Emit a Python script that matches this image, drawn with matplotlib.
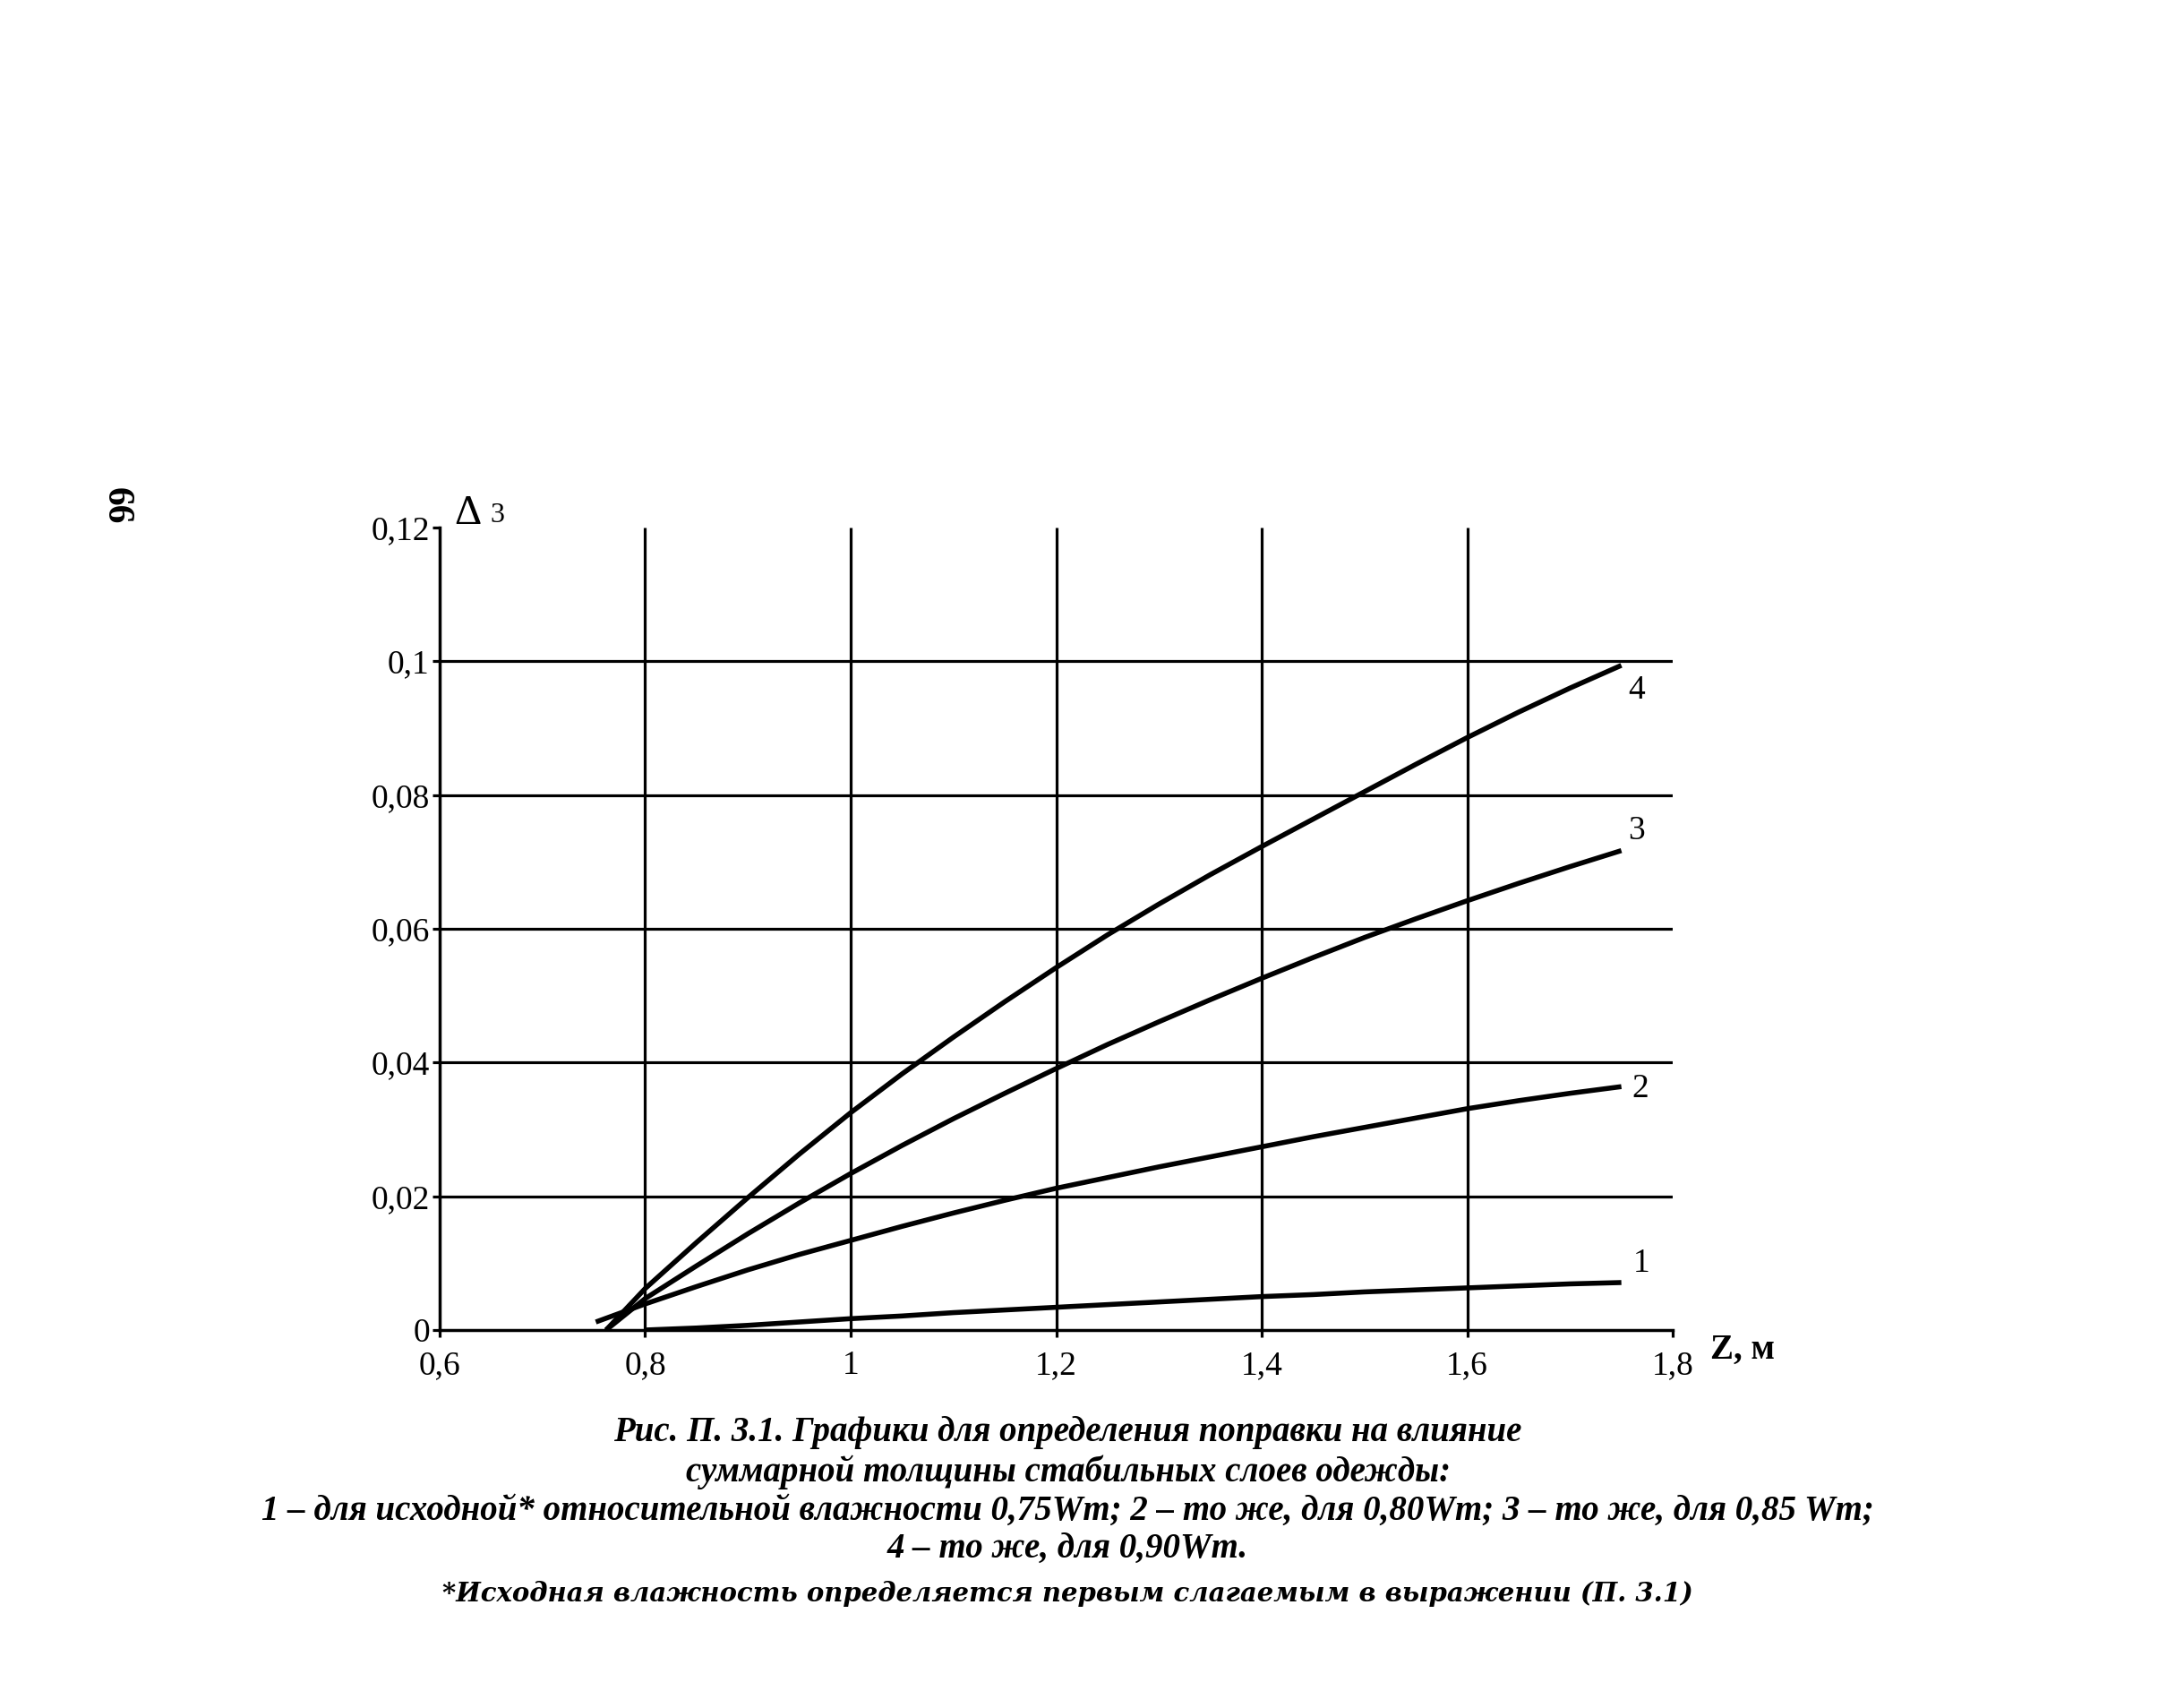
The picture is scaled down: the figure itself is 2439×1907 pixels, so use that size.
import matplotlib
matplotlib.use("Agg")
import matplotlib.pyplot as plt

plt.rcParams['font.family'] = ['Liberation Serif', 'DejaVu Serif']

# curve data (Z in m, correction value)
z1 = [0.80, 0.85, 0.90, 0.95, 1.00, 1.05, 1.10, 1.15, 1.20, 1.25, 1.30,
      1.35, 1.40, 1.45, 1.50, 1.55, 1.60, 1.65, 1.70, 1.75]
d1 = [0.0000, 0.0003, 0.0007, 0.0012, 0.0017, 0.0021, 0.0026, 0.0030, 0.0034, 0.0038, 0.0042,
      0.0046, 0.0050, 0.0053, 0.0057, 0.0060, 0.0063, 0.0066, 0.0069, 0.0071]

z2 = [0.752, 0.80, 0.85, 0.90, 0.95, 1.00, 1.05, 1.10, 1.15, 1.20, 1.25, 1.30,
      1.35, 1.40, 1.45, 1.50, 1.55, 1.60, 1.65, 1.70, 1.75]
d2 = [0.0012, 0.0039, 0.0065, 0.0090, 0.0113, 0.0134, 0.0155, 0.0175, 0.0194, 0.0212, 0.0228, 0.0244,
      0.0259, 0.0274, 0.0289, 0.0303, 0.0317, 0.0331, 0.0343, 0.0354, 0.0364]

z3 = [0.762, 0.80, 0.85, 0.90, 0.95, 1.00, 1.05, 1.10, 1.15, 1.20, 1.25, 1.30,
      1.35, 1.40, 1.45, 1.50, 1.55, 1.60, 1.65, 1.70, 1.75]
d3 = [0.0000, 0.0047, 0.0096, 0.0144, 0.0190, 0.0234, 0.0276, 0.0316, 0.0354, 0.0391, 0.0427, 0.0461,
      0.0494, 0.0526, 0.0557, 0.0587, 0.0615, 0.0642, 0.0668, 0.0693, 0.0717]

z4 = [0.762, 0.80, 0.85, 0.90, 0.95, 1.00, 1.05, 1.10, 1.15, 1.20, 1.25, 1.30,
      1.35, 1.40, 1.45, 1.50, 1.55, 1.60, 1.65, 1.70, 1.75]
d4 = [0.0000, 0.0062, 0.0131, 0.0198, 0.0263, 0.0325, 0.0383, 0.0438, 0.0491, 0.0542, 0.0591, 0.0637,
      0.0681, 0.0723, 0.0764, 0.0805, 0.0846, 0.0886, 0.0924, 0.0960, 0.0994]

curve_names = ["1", "2", "3", "4"]
label_pos = [(1.770, 0.0100), (1.768, 0.0361), (1.765, 0.0746), (1.765, 0.0957)]

xticks = [0.6, 0.8, 1.0, 1.2, 1.4, 1.6, 1.8]
xticklabels = ["0,6", "0,8", "1", "1,2", "1,4", "1,6", "1,8"]
yticks = [0, 0.02, 0.04, 0.06, 0.08, 0.1, 0.12]
yticklabels = ["0", "0,02", "0,04", "0,06", "0,08", "0,1", "0,12"]

caption = [
    "Рис. П. 3.1. Графики для определения поправки на влияние",
    "суммарной толщины стабильных слоев одежды:",
    "1 – для исходной* относительной влажности 0,75Wт; 2 – то же, для 0,80Wт; 3 – то же, для 0,85 Wт;",
    "4 – то же, для 0,90Wт.",
]
footnote = "*Исходная влажность определяется первым слагаемым в выражении (П. 3.1)"

fig = plt.figure(figsize=(24.39, 19.07), dpi=100)
ax = fig.add_axes([0.2013, 0.2213, 0.5646, 0.4698])

ax.set_xlim(0.6, 1.8)
ax.set_ylim(0, 0.12)

# grid: vertical lines at inner x ticks, horizontal at inner y ticks
ax.vlines(xticks[1:-1], 0, 0.12, colors="black", linewidth=2.3)
ax.hlines(yticks[1:-1], 0.6, 1.8, colors="black", linewidth=2.3)

for z, d in [(z1, d1), (z2, d2), (z3, d3), (z4, d4)]:
    ax.plot(z, d, color="black", linewidth=4.0, solid_capstyle="butt")

for name, (px, py) in zip(curve_names, label_pos):
    ax.text(px, py, name, fontsize=27, ha="center", va="center")

ax.spines["top"].set_visible(False)
ax.spines["right"].set_visible(False)
ax.spines["left"].set_linewidth(2.5)
ax.spines["bottom"].set_linewidth(2.5)

ax.set_xticks(xticks)
ax.set_xticklabels(xticklabels)
ax.set_yticks(yticks)
ax.set_yticklabels(yticklabels)
ax.tick_params(axis="both", direction="out", length=6, width=2.3, labelsize=27)
ax.tick_params(axis="y", pad=2)
ax.tick_params(axis="x", pad=10)

# axis captions
fig.text(0.208, 0.6932, "Δ", fontsize=34, ha="left", va="baseline")
fig.text(0.2243, 0.6943, "3", fontsize=23, ha="left", va="baseline")
fig.text(0.783, 0.2045, "Z, м", fontsize=28, fontweight="bold", ha="left", va="baseline")

# page number
fig.text(0.0533, 0.7037, "66", fontsize=30, fontweight="bold", rotation=-90,
         ha="center", va="center")

cap_y = [1600, 1644, 1687, 1729]
for line, yy in zip(caption, cap_y):
    fig.text(0.489, 1 - yy / 1907, line, fontsize=28, fontweight="bold",
             style="italic", ha="center", va="center")
fig.text(0.489, 1 - 1780 / 1907, footnote, fontsize=21, fontweight="bold",
         style="italic", family="DejaVu Serif", ha="center", va="center")

fig.savefig("out.png", dpi=100)
